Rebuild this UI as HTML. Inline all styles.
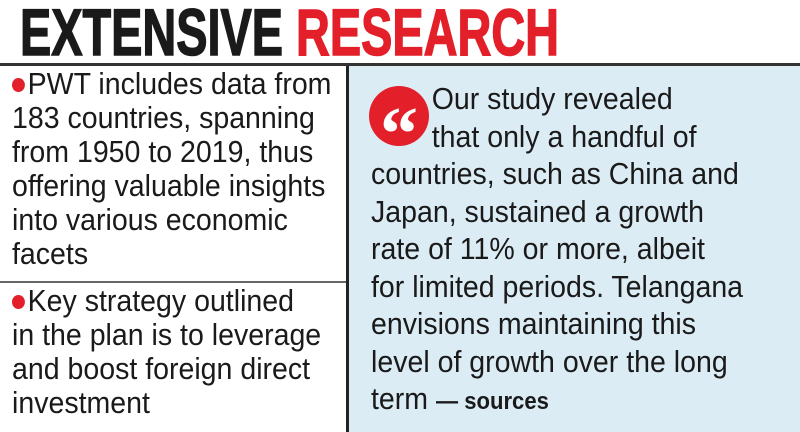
<!DOCTYPE html>
<html><head><meta charset="utf-8"><style>
body{margin:0;width:800px;height:432px;overflow:hidden;background:#fff;font-family:"Liberation Sans Narrow","Liberation Sans",sans-serif;color:#1a1a1a;position:relative}
.title{position:absolute;left:20px;top:-2px;font-weight:bold;font-size:66px;line-height:68px;white-space:nowrap;transform:scaleX(0.71);transform-origin:left top;-webkit-text-stroke:1.5px #1a1a1a}
.title span{color:#e3202a;-webkit-text-stroke:1.5px #e3202a}
.hr{position:absolute;left:0;top:63px;width:800px;height:3px;background:#333}
.right{position:absolute;left:346px;top:66px;width:454px;height:366px;background:#dcecf5;border-left:3px solid #222;box-sizing:border-box}
.left{position:absolute;left:12px;font-size:31px;line-height:34px;white-space:nowrap;transform:scaleX(0.92);transform-origin:left top}
.div{position:absolute;left:0;top:281px;width:346px;height:2px;background:#666}
.dot{display:inline-block;width:14px;height:14px;border-radius:50%;background:#e3202a;margin-right:3px;vertical-align:2px}
.rt{position:absolute;left:22px;top:14px;font-size:31px;line-height:37.5px;white-space:nowrap;transform:scaleX(0.92);transform-origin:left top}
.q{position:absolute;left:20px;top:20px;width:60px;height:60px;border-radius:50%;background:#e3202a;color:#fff;font-family:"Liberation Serif",serif;font-weight:bold;font-size:76px;line-height:96px;text-align:center}
.src{font-weight:bold;font-size:24px}
</style></head><body>
<div class="title">EXTENSIVE <span>RESEARCH</span></div>
<div class="hr"></div>
<div class="left" style="top:67px"><span class="dot"></span>PWT includes data from<br>183 countries, spanning<br>from 1950 to 2019, thus<br>offering valuable insights<br>into various economic<br>facets</div>
<div class="div"></div>
<div class="left" style="top:284px"><span class="dot"></span>Key strategy outlined<br>in the plan is to leverage<br>and boost foreign direct<br>investment</div>
<div class="right">
<div class="q">“</div>
<div class="rt"><span style="padding-left:66px">Our study revealed</span><br><span style="padding-left:66px">that only a handful of</span><br>countries, such as China and<br>Japan, sustained a growth<br>rate of 11% or more, albeit<br>for limited periods. Telangana<br>envisions maintaining this<br>level of growth over the long<br>term <span class="src">— sources</span></div>
</div>
</body></html>
